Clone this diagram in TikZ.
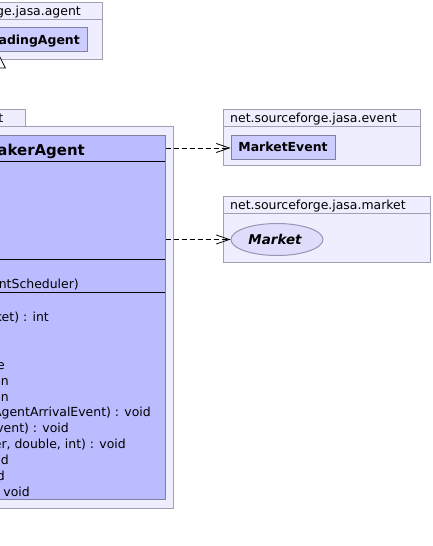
\documentclass[tikz,border=0pt]{standalone}
\usepackage{fontspec}
\setmainfont{DejaVu Sans}
\usetikzlibrary{arrows.meta,shapes.geometric}
\definecolor{pkgfill}{RGB}{238,238,255}
\definecolor{pkgdraw}{RGB}{160,160,180}
\definecolor{clsfill}{RGB}{187,187,255}
\definecolor{clsfill2}{RGB}{204,204,255}
\definecolor{clsdraw}{RGB}{128,128,160}
\definecolor{ellfill}{RGB}{222,222,252}
\definecolor{elldraw}{RGB}{150,150,180}
\tikzset{
  pkgbox/.style={draw=pkgdraw, fill=pkgfill, line width=1bp},
  clsbox/.style={draw=clsdraw, fill=clsfill, line width=1bp, inner sep=0pt, rectangle},
  smallcls/.style={draw=clsdraw, fill=clsfill2, line width=1bp, inner sep=0pt, rectangle},
  ifcbox/.style={draw=elldraw, fill=ellfill, line width=1bp, inner sep=0pt, ellipse},
  sepline/.style={draw=black, line width=1bp},
  txt/.style={inner sep=0pt, font=\fontsize{12.5}{15}\selectfont},
  btxt/.style={inner sep=0pt, font=\fontsize{12.5}{15}\selectfont\bfseries},
  bigtxt/.style={inner sep=0pt, font=\fontsize{15}{18}\selectfont\bfseries},
  dep/.style={draw=black, line width=0.8bp, dash pattern=on 5bp off 3bp,
    -{Straight Barb[length=13bp,width=9bp,line width=0.8bp]}},
  gen/.style={draw=black, line width=0.8bp,
    -{Triangle[length=16bp,width=16bp,fill=white,line width=0.8bp]}}
}
\begin{document}
\begin{tikzpicture}[x=1bp,y=-1bp]
\useasboundingbox (0,0) rectangle (433,546);
\fill[white] (0,0) rectangle (433,546);
\clip (0,0) rectangle (433,546);

% package net.sourceforge.jasa.agent (top)
\draw[pkgbox] (-60,3) rectangle (102,60);
\draw[pkgbox] (-60,20) -- (102,20);
\node[txt, anchor=base east] (pagent) at (81,16) {ge.jasa.agent};
\node[smallcls, minimum width=147bp, minimum height=24bp] (ta) at (13.5,40) {};
\node[btxt, anchor=base east] (talabel) at (80,44.5) {adingAgent};

% main package
\draw[pkgbox] (-60,110) rectangle (25,127);
\node[txt, anchor=base east] (ptab) at (3.5,122.7) {t};
\draw[pkgbox] (-60,127) rectangle (173,508);

% main class
\node[clsbox, minimum width=225bp, minimum height=363bp] (main) at (52.5,317.5) {};
\draw[sepline] (-60,162) -- (165,162);
\draw[sepline] (-60,259) -- (165,259);
\draw[sepline] (-60,292) -- (165,292);
\node[bigtxt, anchor=base east] (mname) at (85,155.7) {akerAgent};
\node[txt, anchor=base east] (c1) at (79,288) {ntScheduler)};
\node[txt, anchor=base east] (m1) at (49,321) {ket) : int};
\node[txt, anchor=base east] (m2) at (5,369) {e};
\node[txt, anchor=base east] (m3) at (9,385) {an};
\node[txt, anchor=base east] (m4) at (9,401) {an};
\node[txt, anchor=base east] (m5) at (151,416.5) {AgentArrivalEvent) : void};
\node[txt, anchor=base east] (m6) at (69,432.5) {vent) : void};
\node[txt, anchor=base east] (m7) at (126,448.5) {er, double, int) : void};
\node[txt, anchor=base east] (m8) at (9,464.5) {id};
\node[txt, anchor=base east] (m9) at (5,480.5) {d};
\node[txt, anchor=base east] (m10) at (30,496) {void};

% generalization to TradingAgent
\coordinate (gx) at (-2,0);
\draw[gen] (gx |- main.north) -- (gx |- ta.south);

% package net.sourceforge.jasa.event
\draw[pkgbox] (223,110) rectangle (420,166);
\draw[pkgbox] (223,127) -- (420,127);
\node[txt, anchor=base west] (pevent) at (230,122.7) {net.sourceforge.jasa.event};
\node[smallcls, minimum width=104bp, minimum height=24bp] (me) at (283,148) {};
\node[btxt, anchor=base] (melabel) at (283,151.5) {MarketEvent};

% package net.sourceforge.jasa.market
\draw[pkgbox] (223,197) rectangle (430,262);
\draw[pkgbox] (223,213) -- (430,213);
\node[txt, anchor=base west] (pmarket) at (230,209.5) {net.sourceforge.jasa.market};
\node[ifcbox, minimum width=92bp, minimum height=32bp] (mk) at (277,239.5) {};
\node[btxt, anchor=base, font=\fontsize{13.5}{16}\selectfont\bfseries\itshape] (mklabel) at (275,244) {Market};

% dependencies
\draw[dep] (main.east |- me.west) -- (me.west);
\draw[dep] (main.east |- mk.west) -- (mk.west);
\end{tikzpicture}
\end{document}
